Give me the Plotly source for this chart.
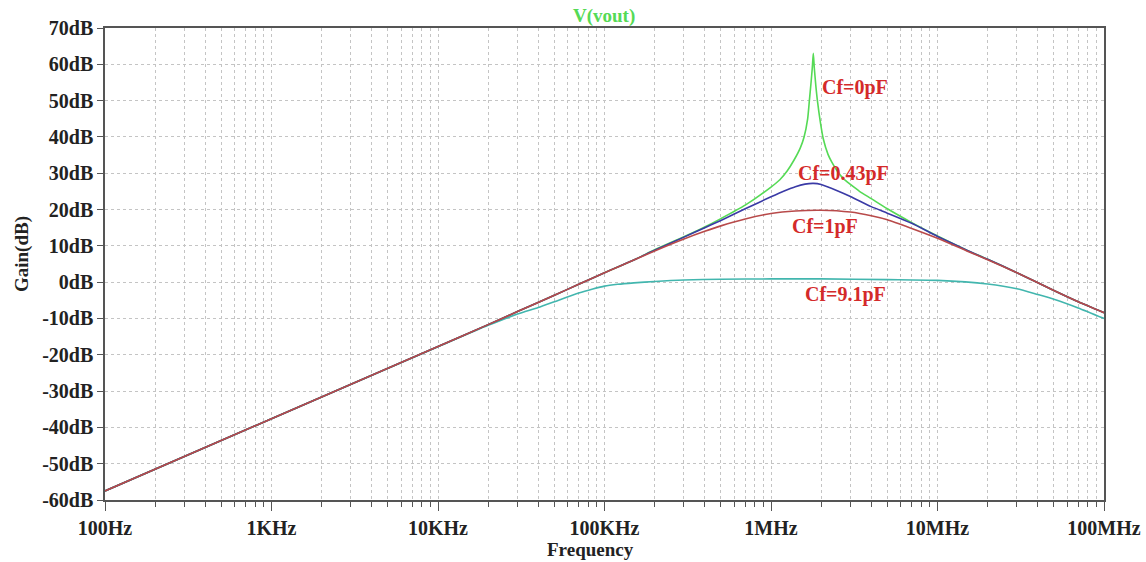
import plotly.graph_objects as go
import math

# ---- data ----
freq_low = [100, 1e3, 1e4, 2e4, 3e4, 5e4, 7e4, 1e5, 1.5e5]
gain_low = [-57.5, -37.6, -17.7, -11.7, -8.1, -3.6, -0.6, 2.6, 6.1]

freq_1p = [2e5, 3e5, 4e5, 5e5, 7e5, 1e6, 1.4e6, 2e6, 3e6, 4e6, 5e6, 7e6, 1e7, 1.5e7, 2e7, 3e7, 5e7, 7e7, 1e8]
gain_1p = [8.6, 11.9, 14.0, 15.5, 17.4, 18.9, 19.6, 19.8, 19.3, 18.3, 17.2, 14.8, 12.1, 8.6, 6.2, 2.6, -2.3, -5.4, -8.4]

freq_043p = [2e5, 3e5, 4e5, 5e5, 7e5, 1e6, 1.2e6, 1.4e6, 1.6e6, 1.8e6, 2e6, 2.5e6, 3e6, 4e6, 5e6, 7e6, 1e7, 1.5e7, 2e7, 3e7, 5e7, 7e7, 1e8]
gain_043p = [8.8, 12.4, 15.0, 17.0, 20.2, 23.5, 25.1, 26.3, 27.0, 27.2, 26.9, 25.2, 23.6, 20.8, 19.0, 16.2, 12.6, 8.8, 6.3, 2.6, -2.3, -5.4, -8.4]

freq_0p = [2e5, 3e5, 4e5, 5e5, 7e5, 1e6, 1.13e6, 1.25e6, 1.37e6, 1.5e6, 1.58e6, 1.66e6, 1.70e6, 1.74e6, 1.77e6, 1.795e6,
           1.82e6, 1.86e6, 1.90e6, 1.98e6, 2.06e6, 2.2e6, 2.31e6, 2.5e6, 2.72e6, 3e6, 3.4e6, 4e6, 5e6, 7e6, 1e7, 1.5e7, 2e7, 3e7, 5e7, 7e7, 1e8]
gain_0p = [8.9, 12.5, 15.2, 17.5, 21.2, 26.2, 28.2, 30.6, 33.5, 37.0, 40.0, 45.0, 50.0, 55.0, 59.0, 63.0,
           59.0, 54.0, 50.0, 44.0, 39.5, 35.2, 33.2, 30.6, 28.5, 26.9, 25.0, 23.0, 20.2, 16.4, 12.7, 8.8, 6.3, 2.6, -2.3, -5.4, -8.4]

freq_91p = [100, 1e3, 1e4, 2e4, 3e4, 4e4, 5e4, 7e4, 8.5e4, 1e5, 1.2e5, 1.5e5, 2e5, 3e5, 5e5, 1e6, 2e6, 5e6, 1e7, 2e7, 3e7, 4e7, 5e7, 7e7, 1e8]
gain_91p = [-57.5, -37.6, -17.8, -11.9, -8.8, -7.0, -5.4, -3.0, -1.9, -1.1, -0.6, -0.2, 0.2, 0.6, 0.8, 0.9, 0.9, 0.7, 0.5, -0.5, -1.8, -3.4, -4.7, -7.1, -10.0]

series_names = ["Cf=0pF", "Cf=0.43pF", "Cf=1pF", "Cf=9.1pF"]
series_colors = ["#55da55", "#3a3aa6", "#b84a4a", "#42b6ae"]

x_tickvals = [1e2, 1e3, 1e4, 1e5, 1e6, 1e7, 1e8]
x_ticktext = ["100Hz", "1KHz", "10KHz", "100KHz", "1MHz", "10MHz", "100MHz"]
y_tickvals = list(range(-60, 71, 10))
y_ticktext = [f"{v}dB" for v in y_tickvals]

# label positions (freq in Hz, gain in dB)
label_pos = [(1.97e6, 53.5), (1.42e6, 29.8), (1.3e6, 15.2), (1.55e6, -3.3)]

serif = "Liberation Serif"
L, R, T, B, W, H = 105, 42, 28, 62, 1146, 562
PW, PH = W - L - R, H - T - B


def px_x(px):
    return (px - L) / PW


def px_y(py):
    return (H - B - py) / PH


fig = go.Figure()
data = [
    (freq_low + freq_0p, gain_low + gain_0p),
    (freq_low + freq_043p, gain_low + gain_043p),
    (freq_low + freq_1p, gain_low + gain_1p),
    (freq_91p, gain_91p),
]
order = [3, 0, 1, 2]
for i in order:
    fx, gy = data[i]
    fig.add_trace(go.Scatter(x=fx, y=gy, mode="lines", name=series_names[i],
                             line=dict(color=series_colors[i], width=1.6, shape="spline", smoothing=0.6),
                             showlegend=False))

for (f, g), name in zip(label_pos, series_names):
    fig.add_annotation(x=math.log10(f), y=g, xref="x", yref="y", text=f"<b>{name}</b>",
                       showarrow=False, xanchor="left", yanchor="middle",
                       font=dict(family=serif, size=20, color="#d42a2a"))

fig.add_annotation(x=px_x(604), y=px_y(16), xref="paper", yref="paper", text="<b>V(vout)</b>",
                   showarrow=False, xanchor="center", yanchor="middle",
                   font=dict(family=serif, size=19, color="#55da55"))
fig.add_annotation(x=px_x(590), y=px_y(549), xref="paper", yref="paper", text="<b>Frequency</b>",
                   showarrow=False, xanchor="center", yanchor="middle",
                   font=dict(family=serif, size=19, color="#222222"))
fig.add_annotation(x=px_x(22), y=px_y(254), xref="paper", yref="paper", text="<b>Gain(dB)</b>",
                   showarrow=False, xanchor="center", yanchor="middle", textangle=-90,
                   font=dict(family=serif, size=19, color="#222222"))

fig.update_layout(
    width=W, height=H,
    margin=dict(l=L, r=R, t=T, b=B, autoexpand=False),
    paper_bgcolor="white", plot_bgcolor="white",
    xaxis=dict(type="log", range=[2, 8], tickvals=x_tickvals, ticktext=x_ticktext, automargin=False,
               showline=True, linecolor="#555555", linewidth=1.5, mirror=True,
               ticks="outside", ticklen=9, tickcolor="#555555",
               showgrid=True, gridcolor="#c4c4c4", griddash="dot", gridwidth=1,
               tickfont=dict(family=serif, size=20, color="#222222", weight="bold"),
               minor=dict(dtick="D1", ticks="outside", ticklen=5, tickcolor="#555555",
                          showgrid=True, gridcolor="#c4c4c4", griddash="dot", gridwidth=1),
               zeroline=False),
    yaxis=dict(range=[-60, 70], tickvals=y_tickvals, ticktext=y_ticktext, automargin=False,
               showline=True, linecolor="#555555", linewidth=1.5, mirror=True,
               ticks="outside", ticklen=6, tickcolor="#555555",
               showgrid=True, gridcolor="#c4c4c4", griddash="dot", gridwidth=1,
               tickfont=dict(family=serif, size=20, color="#222222", weight="bold"),
               zeroline=False),
)

fig.write_html("out.html", config={"displayModeBar": False},
               post_script="document.body.style.margin='0';document.body.style.overflow='hidden';")
